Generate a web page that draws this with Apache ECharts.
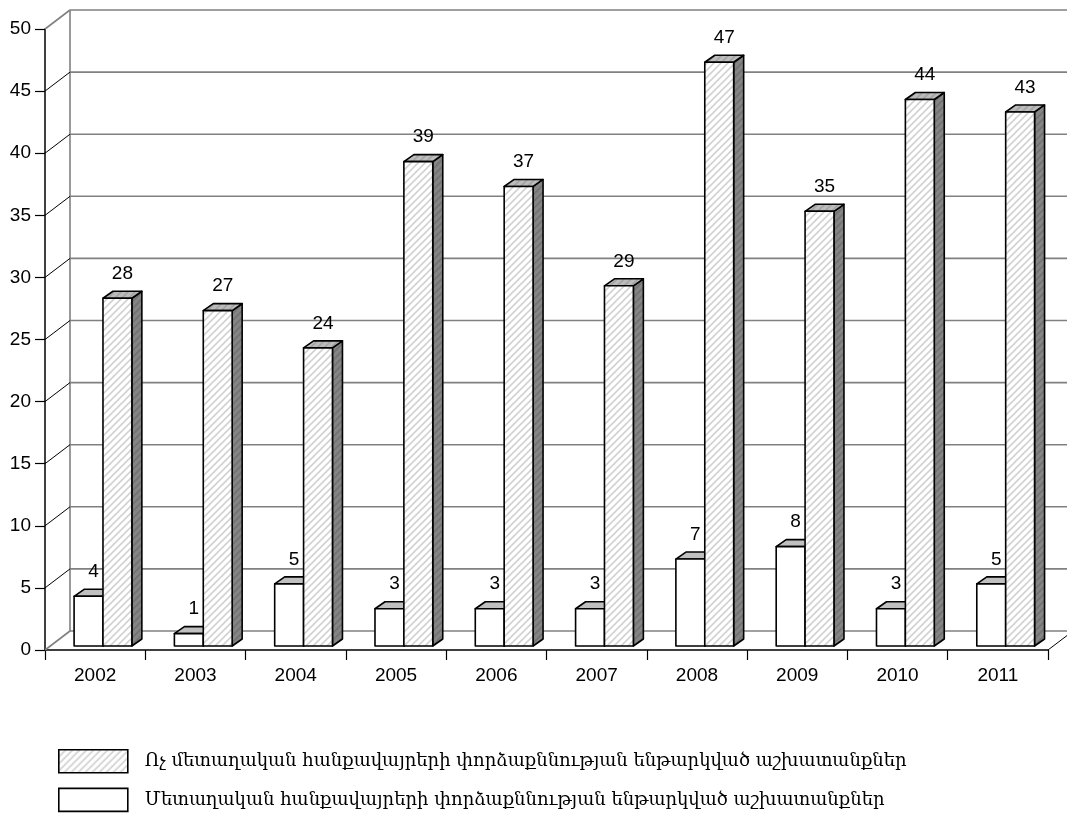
<!DOCTYPE html>
<html>
<head>
<meta charset="utf-8">
<script src="https://cdn.jsdelivr.net/npm/echarts@6/dist/echarts.min.js"></script>
<style>
html,body{margin:0;padding:0;background:#fff;}
#chart{width:1067px;height:818px;}
</style>
</head>
<body>
<div id="chart"></div>
<script>
const years = ['2002','2003','2004','2005','2006','2007','2008','2009','2010','2011'];
const metallic = [4, 1, 5, 3, 3, 3, 7, 8, 3, 5];
const nonMetallic = [28, 27, 24, 39, 37, 29, 47, 35, 44, 43];
const yTicks = [0, 5, 10, 15, 20, 25, 30, 35, 40, 45, 50];
const nameNonMetallic = 'Ոչ մետաղական հանքավայրերի փորձաքննության ենթարկված աշխատանքներ';
const nameMetallic = 'Մետաղական հանքավայրերի փորձաքննության ենթարկված աշխատանքներ';

function makePattern(bg, stripe, size, lw) {
  const c = document.createElement('canvas');
  c.width = size; c.height = size;
  const g = c.getContext('2d');
  g.fillStyle = bg; g.fillRect(0, 0, size, size);
  g.strokeStyle = stripe; g.lineWidth = lw;
  g.beginPath();
  g.moveTo(-2, size + 2); g.lineTo(size + 2, -2);
  g.moveTo(-2, 2); g.lineTo(2, -2);
  g.moveTo(size - 2, size + 2); g.lineTo(size + 2, size - 2);
  g.stroke();
  return { image: c, repeat: 'repeat' };
}
const hatchFront = makePattern('#ffffff', '#d2d2d2', 7, 1.6);
const hatchTop = makePattern('#bcbcbc', '#a4a4a4', 7, 1.6);
const hatchSide = makePattern('#858585', '#727272', 7, 1.6);

const DX = 25, DY = -19;      // wall depth
const BDX = 10, BDY = -7;     // bar depth
const BSHIFT_X = 0, BSHIFT_Y = -4; // bar plane offset
const FONT = 'Liberation Sans, Arial, sans-serif';

function wallRender(params, api) {
  const cs = params.coordSys;
  const v = api.value(0);
  const y = api.coord([0, v])[1];
  const xl = cs.x, xr = cs.x + cs.width;
  const children = [];
  const gray = '#808080';
  children.push({type:'line', shape:{x1:xl+DX, y1:y+DY, x2:xr+DX+40, y2:y+DY}, style:{stroke:gray, lineWidth:1.6}});
  const edge = (v === yTicks[0] || v === yTicks[yTicks.length-1]);
  children.push({type:'line', shape:{x1:xl, y1:y, x2:xl+DX, y2:y+DY}, style:{stroke: edge ? gray : '#000', lineWidth: edge ? 1.6 : 1}});
  if (v === yTicks[0]) {
    const yTop = api.coord([0, yTicks[yTicks.length-1]])[1];
    children.push({type:'line', shape:{x1:xl+DX, y1:y+DY, x2:xl+DX, y2:yTop+DY}, style:{stroke:gray, lineWidth:1.6}});
    children.push({type:'line', shape:{x1:xr, y1:y, x2:xr+DX, y2:y+DY}, style:{stroke:'#000', lineWidth:1}});
  }
  return {type:'group', children};
}

function barRender(kind) {
  return function(params, api) {
    const idx = api.value(0), v = api.value(1);
    const bw = api.size([1, 0])[0];
    const c0 = api.coord([idx, 0]);
    const cv = api.coord([idx, v]);
    const bandStart = c0[0] - bw / 2;
    const f0 = kind === 'white' ? 0.29 : 0.578;
    const f1 = kind === 'white' ? 0.578 : 0.866;
    const x0 = bandStart + bw * f0 + BSHIFT_X, x1 = bandStart + bw * f1 + BSHIFT_X;
    const yb = c0[1] + BSHIFT_Y, yt = cv[1] + BSHIFT_Y;
    const stroke = {stroke:'#000', lineWidth:1.6, lineJoin:'round'};
    const frontFill = kind === 'white' ? '#ffffff' : hatchFront;
    const topFill = kind === 'white' ? '#c0c0c0' : hatchTop;
    const sideFill = kind === 'white' ? '#9a9a9a' : hatchSide;
    const children = [
      {type:'polygon', shape:{points:[[x1,yb],[x1+BDX,yb+BDY],[x1+BDX,yt+BDY],[x1,yt]]}, style:Object.assign({fill:sideFill}, stroke)},
      {type:'polygon', shape:{points:[[x0,yt],[x1,yt],[x1+BDX,yt+BDY],[x0+BDX,yt+BDY]]}, style:Object.assign({fill:topFill}, stroke)},
      {type:'rect', shape:{x:x0, y:yt, width:x1-x0, height:yb-yt}, style:Object.assign({fill:frontFill}, stroke)},
      {type:'text', style:{text:String(v), x:(x0+x1)/2 + BDX/2, y:yt + BDY - 8, textAlign:'center', textVerticalAlign:'bottom', font:'19px ' + FONT, fill:'#000'}}
    ];
    return {type:'group', children};
  };
}

const chart = echarts.init(document.getElementById('chart'), null, {renderer:'canvas'});
chart.setOption({
  animation:false,
  backgroundColor:'#fff',
  grid:{left:45, right:19, top:29, bottom:168, containLabel:false},
  xAxis:{
    type:'category', data:years,
    axisLine:{lineStyle:{color:'#000', width:1.5}},
    axisTick:{show:true, length:10, lineStyle:{color:'#000', width:1.2}},
    axisLabel:{fontSize:19, color:'#000', fontFamily:FONT, margin:16},
    splitLine:{show:false}
  },
  yAxis:{
    type:'value', min:0, max:50, interval:5,
    axisLine:{show:true, lineStyle:{color:'#000', width:1.5}},
    axisTick:{show:true, length:10, lineStyle:{color:'#000', width:1.2}},
    axisLabel:{fontSize:19, color:'#000', fontFamily:FONT, margin:14},
    splitLine:{show:false}
  },
  legend:{
    orient:'vertical', left:58, top:749, padding:0,
    itemWidth:69, itemHeight:23, itemGap:14, selectedMode:false,
    textStyle:{fontFamily:'DejaVu Serif', fontSize:18, color:'#000', padding:[0,0,0,12]},
    data:[
      {name:nameNonMetallic, icon:'rect', itemStyle:{color:hatchFront, borderColor:'#000', borderWidth:1.6}},
      {name:nameMetallic, icon:'rect', itemStyle:{color:'#ffffff', borderColor:'#000', borderWidth:1.6}}
    ]
  },
  series:[
    {type:'custom', name:'wall', renderItem:wallRender, data:yTicks.map(v => [v]), encode:{y:0}, clip:false, silent:true, z:1},
    {type:'custom', name:nameMetallic, renderItem:barRender('white'), data:metallic.map((v,i)=>[i,v]), encode:{x:0,y:1}, clip:false, z:2,
     itemStyle:{color:'#ffffff', borderColor:'#000', borderWidth:1.6}},
    {type:'custom', name:nameNonMetallic, renderItem:barRender('hatch'), data:nonMetallic.map((v,i)=>[i,v]), encode:{x:0,y:1}, clip:false, z:3,
     itemStyle:{color:hatchFront, borderColor:'#000', borderWidth:1.6}}
  ]
});
</script>
</body>
</html>
